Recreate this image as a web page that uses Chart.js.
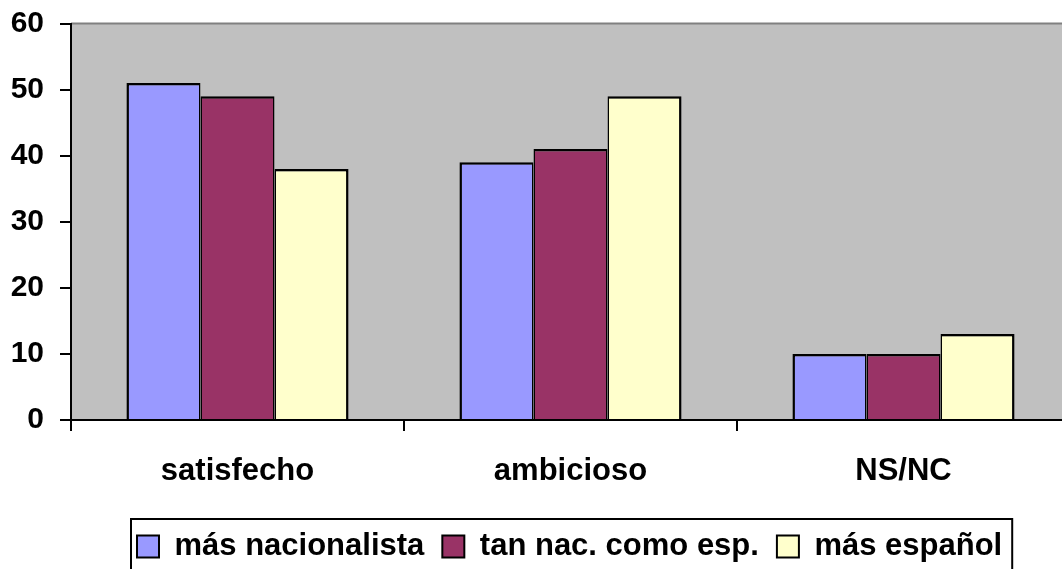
<!DOCTYPE html>
<html><head><meta charset="utf-8">
<script src="https://cdn.jsdelivr.net/npm/chart.js@4.4.0/dist/chart.umd.min.js"></script>
<style>
html,body{margin:0;padding:0;background:#fff;overflow:hidden;width:1062px;height:569px}
#wrap{width:1075px;height:569px}
</style>
</head><body>
<div id="wrap"><canvas id="c" width="1075" height="569"></canvas></div>
<script>
const categories = ['satisfecho', 'ambicioso', 'NS/NC'];
const seriesNames = ['más nacionalista', 'tan nac. como esp.', 'más español'];
const masNacionalista = [51, 39, 10];
const tanNacComoEsp = [49, 41, 10];
const masEspanol = [38, 49, 13];
const yTicks = [0, 10, 20, 30, 40, 50, 60];

const FONT = "'Liberation Sans', Arial, sans-serif";
Chart.defaults.font.family = FONT;
Chart.defaults.color = '#000';

const plotDeco = {
  id: 'plotDeco',
  beforeDraw(chart) {
    const {ctx, chartArea: a} = chart;
    ctx.save();
    ctx.fillStyle = '#C0C0C0';
    ctx.fillRect(a.left, a.top, a.right - a.left, a.bottom - a.top);
    ctx.fillStyle = '#808080';
    ctx.fillRect(a.left, a.top - 1, a.right - a.left, 2);
    ctx.restore();
  },
  afterUpdate(chart) {
    const lg = chart.legend;
    if (!lg || !lg.legendHitBoxes || !lg.legendHitBoxes.length) return;
    const dx = 137 - lg.legendHitBoxes[0].left;
    lg.left += dx; lg.right += dx;
    lg.top += 3; lg.bottom += 3;
  },
  afterDraw(chart) {
    const lg = chart.legend;
    const hb = lg.legendHitBoxes;
    if (!hb || !hb.length) return;
    const last = hb[hb.length - 1];
    const first = hb[0];
    const l = first.left + 137 - first.left - 6;
    const r = 137 + (last.left - first.left) + last.width + 10;
    const t = lg.top + 6;
    const ctx = chart.ctx;
    ctx.save();
    ctx.strokeStyle = '#000';
    ctx.lineWidth = 2;
    ctx.strokeRect(l, t, r - l, 80);
    ctx.restore();
  }
};

new Chart(document.getElementById('c'), {
  type: 'bar',
  data: {
    labels: categories,
    datasets: [
      {label: seriesNames[0], data: masNacionalista, backgroundColor: '#9999FF', borderColor: '#000',
       borderWidth: {top: 2.5, left: 2.5, right: 1.5, bottom: 0}},
      {label: seriesNames[1], data: tanNacComoEsp, backgroundColor: '#993366', borderColor: '#000',
       borderWidth: {top: 2.5, left: 1.5, right: 1.5, bottom: 0}},
      {label: seriesNames[2], data: masEspanol, backgroundColor: '#FFFFCC', borderColor: '#000',
       borderWidth: {top: 2.5, left: 1.5, right: 2.5, bottom: 0}}
    ]
  },
  options: {
    responsive: false,
    animation: false,
    devicePixelRatio: 1,
    layout: {padding: {top: 23, left: 0, right: 5, bottom: 0}},
    datasets: {bar: {categoryPercentage: 0.667, barPercentage: 1.0}},
    plugins: {
      tooltip: {enabled: false},
      title: {display: false},
      legend: {
        position: 'bottom',
        labels: {
          font: {family: FONT, size: 31, weight: 'bold'},
          color: '#000',
          boxWidth: 22, boxHeight: 22, padding: 18,
          generateLabels(chart) {
            return Chart.defaults.plugins.legend.labels.generateLabels(chart).map(it => Object.assign(it, {lineWidth: 2, strokeStyle: '#000'}));
          }
        }
      }
    },
    scales: {
      x: {
        grid: {display: true, drawOnChartArea: false, drawTicks: true, tickLength: 11, tickWidth: 2, tickColor: '#000', color: '#000', lineWidth: 2, offset: true},
        border: {display: true, color: '#000', width: 2},
        ticks: {font: {family: FONT, size: 31, weight: 'bold'}, color: '#000', padding: 22, maxRotation: 0},
        afterFit(axis) {
          const lg = axis.chart.legend;
          axis.height = 569 - 420 - (lg ? lg.height : 50);
        }
      },
      y: {
        min: 0, max: 60,
        afterBuildTicks(s) { s.ticks = yTicks.map(v => ({value: v})); },
        grid: {display: true, drawOnChartArea: false, drawTicks: true, tickLength: 11, tickWidth: 2, tickColor: '#000', color: '#000', lineWidth: 2},
        border: {display: true, color: '#000', width: 2},
        ticks: {font: {family: FONT, size: 30, weight: 'bold', lineHeight: 0.5}, color: '#000', padding: 16},
        afterFit(axis) { axis.width = 71; }
      }
    }
  },
  plugins: [plotDeco]
});
</script>
</body></html>
